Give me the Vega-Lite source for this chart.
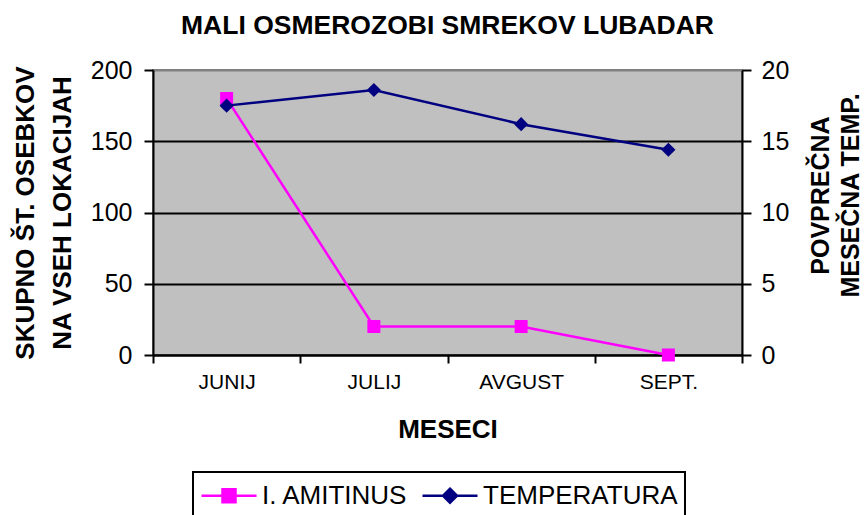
{
  "$schema": "https://vega.github.io/schema/vega-lite/v6.json",
  "width": 589,
  "height": 285,
  "autosize": {"type": "none"},
  "padding": {"left": 153, "top": 70, "right": 122, "bottom": 160},
  "background": "white",
  "config": {
    "font": "Liberation Sans",
    "view": {"fill": "#C0C0C0", "stroke": "#808080", "strokeWidth": 2}
  },
  "title": {
    "text": "MALI OSMEROZOBI SMREKOV LUBADAR",
    "fontSize": 26.5,
    "fontWeight": "bold",
    "font": "Liberation Sans",
    "color": "black",
    "anchor": "middle",
    "baseline": "alphabetic",
    "offset": -2
  },
  "data": {
    "values": [
      {"month": "JUNIJ", "series": "I. AMITINUS", "value": 180},
      {"month": "JULIJ", "series": "I. AMITINUS", "value": 20},
      {"month": "AVGUST", "series": "I. AMITINUS", "value": 20},
      {"month": "SEPT.", "series": "I. AMITINUS", "value": 0},
      {"month": "JUNIJ", "series": "TEMPERATURA", "value": 17.5},
      {"month": "JULIJ", "series": "TEMPERATURA", "value": 18.6},
      {"month": "AVGUST", "series": "TEMPERATURA", "value": 16.2},
      {"month": "SEPT.", "series": "TEMPERATURA", "value": 14.4}
    ]
  },
  "encoding": {
    "x": {
      "field": "month",
      "type": "ordinal",
      "sort": ["JUNIJ", "JULIJ", "AVGUST", "SEPT."],
      "scale": {"type": "band", "paddingInner": 0, "paddingOuter": 0},
      "bandPosition": 0.5,
      "axis": {
        "orient": "bottom",
        "tickBand": "extent",
        "labelAngle": 0,
        "labelFontSize": 21,
        "labelColor": "black",
        "labelPadding": 8,
        "tickSize": 8,
        "tickWidth": 2,
        "tickColor": "black",
        "domainColor": "black",
        "domainWidth": 2,
        "title": "MESECI",
        "titleFontSize": 26,
        "titleFontWeight": "bold",
        "titleColor": "black",
        "titleBaseline": "alphabetic",
        "titleAlign": "center",
        "titleX": 294.5,
        "titleY": 82
      }
    }
  },
  "layer": [
    {
      "transform": [{"filter": "datum.series == 'I. AMITINUS'"}],
      "mark": {"type": "line", "strokeWidth": 2.5, "point": {"shape": "square", "size": 169, "filled": true, "opacity": 1}},
      "encoding": {
        "y": {
          "field": "value",
          "type": "quantitative",
          "scale": {"domain": [0, 200], "nice": false, "zero": true},
          "axis": {
            "orient": "left",
            "values": [0, 50, 100, 150, 200],
            "labelFontSize": 25,
            "labelColor": "black",
            "labelPadding": 12,
            "tickSize": 9,
            "tickWidth": 2,
            "tickColor": "black",
            "domainColor": "black",
            "domainWidth": 2,
            "grid": true,
            "gridColor": {"condition": {"test": "datum.value === 200", "value": "#808080"}, "value": "black"},
            "gridWidth": 2,
            "gridOpacity": 1,
            "title": ["SKUPNO ŠT. OSEBKOV", "NA VSEH LOKACIJAH"],
            "titleFontSize": 26,
            "titleFontWeight": "bold",
            "titleColor": "black",
            "titleAngle": 270,
            "titleAlign": "center",
            "titleBaseline": "alphabetic",
            "titleX": -120,
            "titleY": 142.5,
            "titleLineHeight": 37
          }
        },
        "color": {
          "field": "series",
          "type": "nominal",
          "scale": {"domain": ["I. AMITINUS", "TEMPERATURA"], "range": ["#FF00FF", "#000080"]},
          "legend": {
            "orient": "none",
            "legendX": 40,
            "legendY": 402,
            "direction": "horizontal",
            "title": null,
            "labelFontSize": 26,
            "labelColor": "black",
            "labelFont": "Liberation Sans",
            "labelLimit": 400,
            "symbolSize": 900,
            "symbolStrokeWidth": 2.5,
            "labelOffset": 29,
            "columnPadding": 9,
            "padding": 7,
            "strokeColor": "black",
            "encode": {
              "legend": {"update": {"stroke": {"value": "black"}, "strokeWidth": {"value": 2}}},
              "symbols": {
                "update": {
                  "shape": {"signal": "datum.value === 'I. AMITINUS' ? 'M-1,0H2.667M0.4,-0.433H1.267V0.433H0.4Z' : 'M-1,0H2.667M0.833,-0.467L1.3,0L0.833,0.467L0.367,0Z'"},
                  "fill": {"signal": "datum.value === 'I. AMITINUS' ? '#FF00FF' : '#000080'"},
                  "stroke": {"signal": "datum.value === 'I. AMITINUS' ? '#FF00FF' : '#000080'"},
                  "strokeWidth": {"value": 2.5},
                  "opacity": {"value": 1},
                  "fillOpacity": {"value": 1}
                }
              }
            }
          }
        }
      }
    },
    {
      "transform": [{"filter": "datum.series == 'TEMPERATURA'"}],
      "mark": {"type": "line", "strokeWidth": 2.5, "point": {"shape": "diamond", "size": 200, "filled": true, "opacity": 1}},
      "encoding": {
        "y": {
          "field": "value",
          "type": "quantitative",
          "scale": {"domain": [0, 20], "nice": false, "zero": true},
          "axis": {
            "orient": "right",
            "values": [0, 5, 10, 15, 20],
            "labelFontSize": 25,
            "labelColor": "black",
            "labelPadding": 10,
            "tickSize": 9,
            "tickWidth": 2,
            "tickColor": "black",
            "domainColor": "black",
            "domainWidth": 2,
            "grid": false,
            "title": ["POVPREČNA", "MESEČNA TEMP."],
            "titleFontSize": 25,
            "titleFontWeight": "bold",
            "titleColor": "black",
            "titleAngle": 270,
            "titleAlign": "center",
            "titleBaseline": "alphabetic",
            "titleX": 86,
            "titleY": 125,
            "titleLineHeight": 30
          }
        },
        "color": {"field": "series", "type": "nominal"}
      }
    }
  ],
  "resolve": {"scale": {"y": "independent"}}
}
